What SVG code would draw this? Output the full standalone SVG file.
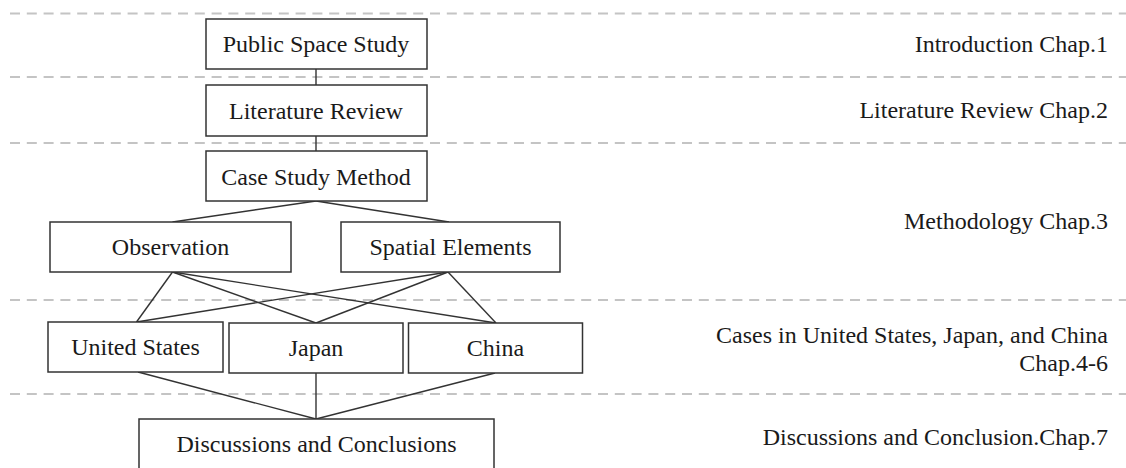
<svg xmlns="http://www.w3.org/2000/svg" width="1126" height="468" viewBox="0 0 1126 468">
<style>
.sep{stroke:#c4c4c4;stroke-width:2;stroke-dasharray:10 6.8;fill:none}
.box{fill:#fff;stroke:#333;stroke-width:1.5}
.lbl{font-family:"Liberation Serif","Times New Roman",serif;font-size:24px;fill:#1a1a1a;text-anchor:middle}
.ch{font-family:"Liberation Serif","Times New Roman",serif;font-size:24px;fill:#1a1a1a;text-anchor:end}
.con line{stroke:#333;stroke-width:1.4}
</style>
<rect width="1126" height="468" fill="#fff"/>
<g id="separators">
<line class="sep" x1="10" y1="13.5" x2="1126" y2="13.5"/>
<line class="sep" x1="10" y1="77" x2="1126" y2="77"/>
<line class="sep" x1="10" y1="143" x2="1126" y2="143"/>
<line class="sep" x1="10" y1="300" x2="1126" y2="300"/>
<line class="sep" x1="10" y1="394" x2="1126" y2="394"/>
</g>
<g id="connectors" class="con">
<line x1="316" y1="69" x2="316" y2="85"/>
<line x1="316" y1="136" x2="316" y2="151"/>
<line x1="316" y1="201" x2="172.5" y2="222"/>
<line x1="316" y1="201" x2="449" y2="222"/>
<line x1="172.5" y1="272" x2="136.5" y2="322"/>
<line x1="172.5" y1="272" x2="316" y2="323"/>
<line x1="172.5" y1="272" x2="496" y2="323"/>
<line x1="448" y1="272" x2="136.5" y2="322"/>
<line x1="448" y1="272" x2="316" y2="323"/>
<line x1="448" y1="272" x2="496" y2="323"/>
<line x1="138" y1="372" x2="316" y2="419"/>
<line x1="316" y1="373" x2="316" y2="419"/>
<line x1="495" y1="373" x2="316" y2="419"/>
</g>
<g id="n-public"><rect class="box" x="206" y="19" width="221" height="50"/><text class="lbl" x="316" y="51.5">Public Space Study</text></g>
<g id="n-literature"><rect class="box" x="206" y="85" width="221" height="51"/><text class="lbl" x="316" y="118.5">Literature Review</text></g>
<g id="n-case"><rect class="box" x="206" y="151" width="221" height="50"/><text class="lbl" x="316" y="184.5">Case Study Method</text></g>
<g id="n-observation"><rect class="box" x="50" y="222" width="241" height="50"/><text class="lbl" x="170.5" y="254.5">Observation</text></g>
<g id="n-spatial"><rect class="box" x="341" y="222" width="219" height="50"/><text class="lbl" x="450.5" y="254.5">Spatial Elements</text></g>
<g id="n-us"><rect class="box" x="48" y="322" width="175" height="50"/><text class="lbl" x="135.5" y="355">United States</text></g>
<g id="n-japan"><rect class="box" x="229" y="323" width="174" height="50"/><text class="lbl" x="316" y="355.5">Japan</text></g>
<g id="n-china"><rect class="box" x="408.5" y="323" width="174" height="50"/><text class="lbl" x="495.5" y="355.5">China</text></g>
<g id="n-discussions"><rect class="box" x="139" y="419" width="355" height="60"/><text class="lbl" x="316.5" y="451.5">Discussions and Conclusions</text></g>
<g id="chapters">
<text class="ch" x="1108" y="51.7">Introduction Chap.1</text>
<text class="ch" x="1108" y="118.3">Literature Review Chap.2</text>
<text class="ch" x="1108" y="229.3">Methodology Chap.3</text>
<text class="ch" x="1108" y="343">Cases in United States, Japan, and China</text>
<text class="ch" x="1108" y="370.7">Chap.4-6</text>
<text class="ch" x="1108" y="445.3">Discussions and Conclusion.Chap.7</text>
</g>
</svg>
